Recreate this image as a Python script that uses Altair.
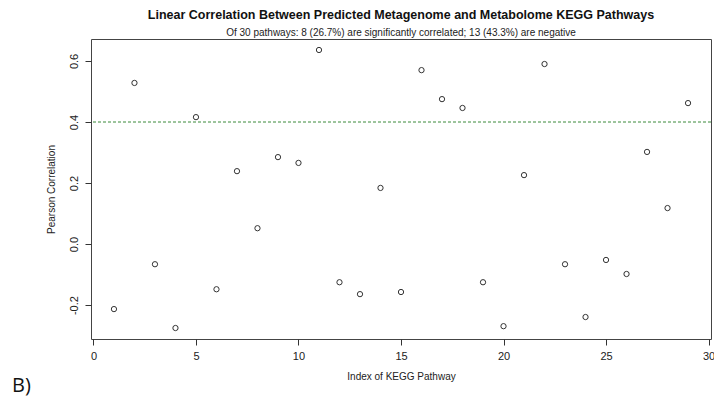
import altair as alt
import pandas as pd

index = list(range(1, 30))
corr = [-0.213, 0.528, -0.066, -0.275, 0.416, -0.148, 0.239, 0.052, 0.285, 0.266,
        0.636, -0.125, -0.164, 0.184, -0.157, 0.570, 0.475, 0.446, -0.125, -0.269,
        0.226, 0.590, -0.066, -0.239, -0.052, -0.098, 0.302, 0.118, 0.462]
threshold = [0.4]
x_ticks = [0, 5, 10, 15, 20, 25, 30]
y_ticks = [-0.2, 0.0, 0.2, 0.4, 0.6]

df = pd.DataFrame({"idx": index, "r": corr})
thr = pd.DataFrame({"t": threshold})

FONT = "Liberation Sans"

xs = alt.Scale(domain=[-0.12, 30.12], nice=False, zero=False)
ys = alt.Scale(domain=[-0.311, 0.672], nice=False, zero=False)

points = alt.Chart(df).mark_point(
    shape="circle", filled=False, color="#333333", size=28, strokeWidth=1, opacity=1
).encode(
    x=alt.X("idx:Q", scale=xs, title="Index of KEGG Pathway",
            axis=alt.Axis(values=x_ticks, format="d", grid=False, domain=False,
                          tickColor="#333333", tickSize=6, labelPadding=5,
                          labelFontSize=11, labelColor="#222222",
                          titleFontSize=10, titleFontWeight="normal", titlePadding=10,
                          titleColor="#222222", labelFont=FONT, titleFont=FONT)),
    y=alt.Y("r:Q", scale=ys, title="Pearson Correlation",
            axis=alt.Axis(values=y_ticks, grid=False, domain=False,
                          labelExpr="replace(format(datum.value, '.1f'), '\u2212', '-')",
                          tickColor="#333333", tickSize=6, labelAngle=270,
                          labelAlign="center", labelBaseline="bottom", labelPadding=6,
                          labelFontSize=11, labelColor="#222222",
                          titleFontSize=10, titleFontWeight="normal", titlePadding=12,
                          titleColor="#222222", labelFont=FONT, titleFont=FONT)),
)

rule = alt.Chart(thr).mark_rule(color="#3a8a3a", strokeDash=[3, 2], strokeWidth=1).encode(
    y=alt.Y("t:Q", scale=ys)
)

label = alt.Chart(pd.DataFrame({"lab": ["B)"]})).mark_text(
    text="B)", fontSize=20, font="Open Sans", color="#111111", align="left", baseline="middle"
).encode(x=alt.value(-79), y=alt.value(347))

chart = alt.layer(rule, points, label).properties(
    width=620, height=300,
    title=alt.TitleParams(
        text="Linear Correlation Between Predicted Metagenome and Metabolome KEGG Pathways",
        subtitle="Of 30 pathways: 8 (26.7%) are significantly correlated; 13 (43.3%) are negative",
        anchor="middle", font=FONT, fontSize=12.5, fontWeight="bold", color="#111111",
        subtitleFont=FONT, subtitleFontSize=10, subtitleColor="#222222",
        subtitlePadding=7, offset=1,
    ),
    autosize=alt.AutoSizeParams(type="none"),
    padding={"left": 83, "top": 31, "right": 3, "bottom": 60},
).configure_view(stroke="#444444", strokeWidth=1)

chart.save("out.html", embed_options={"renderer": "svg", "actions": False})
